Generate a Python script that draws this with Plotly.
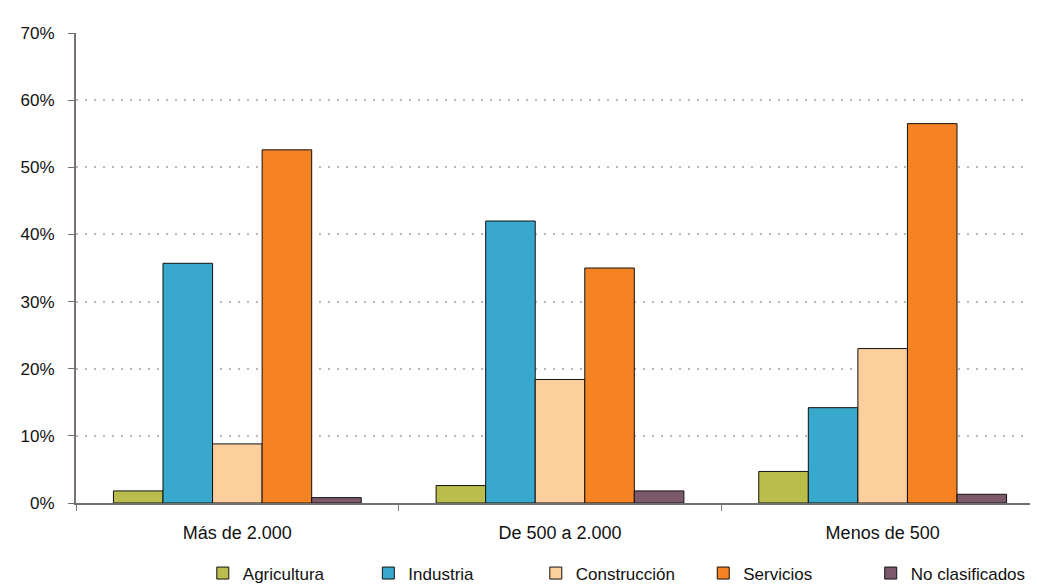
import plotly.graph_objects as go

categories = ["Más de 2.000", "De 500 a 2.000", "Menos de 500"]
series_names = ["Agricultura", "Industria", "Construcción", "Servicios", "No clasificados"]
agricultura = [1.8, 2.6, 4.7]
industria = [35.7, 42.0, 14.2]
construccion = [8.8, 18.4, 23.0]
servicios = [52.6, 35.0, 56.5]
no_clasificados = [0.8, 1.8, 1.3]
y_ticks = [0, 10, 20, 30, 40, 50, 60, 70]
y_tick_labels = ["0%", "10%", "20%", "30%", "40%", "50%", "60%", "70%"]

colors = ["#BABD4C", "#39A8CD", "#FDCF9C", "#F58323", "#7C5A6C"]
values = [agricultura, industria, construccion, servicios, no_clasificados]

# one legend per series so the entries sit where the original puts them
legend_ids = ["legend", "legend2", "legend3", "legend4", "legend5"]
legend_x = [0.131, 0.302, 0.475, 0.648, 0.821]

fig = go.Figure()
for name, vals, col, lid in zip(series_names, values, colors, legend_ids):
    fig.add_bar(
        x=categories,
        y=vals,
        name=name,
        legend=lid,
        marker=dict(color=col, line=dict(color="#111111", width=1)),
    )

legend_common = dict(
    orientation="h",
    xanchor="left",
    y=-0.15,
    yanchor="middle",
    itemwidth=30,
    font=dict(size=17),
    bgcolor="rgba(0,0,0,0)",
)

fig.update_layout(
    width=1038,
    height=585,
    barmode="group",
    bargap=0.232,
    bargroupgap=0,
    plot_bgcolor="white",
    paper_bgcolor="white",
    margin=dict(l=68, r=2, t=25, b=80),
    font=dict(family="Liberation Sans, Arial, sans-serif", size=18, color="#111111"),
    xaxis=dict(
        showline=True,
        linecolor="#6f6f6f",
        linewidth=2,
        ticks="outside",
        tickson="boundaries",
        ticklen=6,
        tickcolor="#8a7a80",
        showgrid=False,
        ticklabelstandoff=12,
        automargin=False,
    ),
    yaxis=dict(
        range=[0, 70],
        tickvals=y_ticks,
        ticktext=y_tick_labels,
        showline=True,
        linecolor="#7a7078",
        linewidth=2,
        ticks="outside",
        ticklen=6,
        tickcolor="#6f6f6f",
        showgrid=True,
        gridcolor="#b8b8b8",
        griddash="2px,7px",
        gridwidth=1.5,
        zeroline=False,
        tickfont=dict(size=17),
        ticklabelstandoff=10,
        automargin=False,
    ),
    showlegend=True,
)
for lid, lx in zip(legend_ids, legend_x):
    fig.update_layout({lid: dict(legend_common, x=lx)})

fig.write_html("out.html")
